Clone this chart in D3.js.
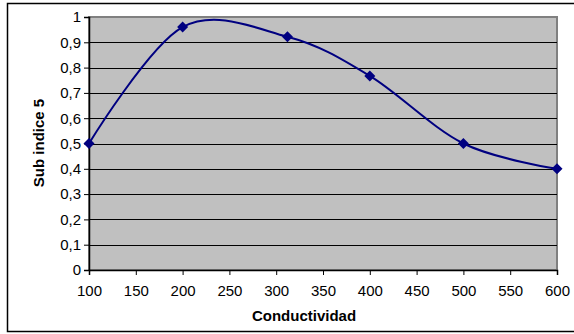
<!DOCTYPE html>
<html>
<head>
<meta charset="utf-8">
<script src="https://cdn.jsdelivr.net/npm/d3@7"></script>
<style>
  body { margin: 0; background: #fff; }
  text { font-family: "Liberation Sans", Arial, sans-serif; }
</style>
</head>
<body>
<script>
const conductividad = [100, 200, 312, 400, 500, 600];
const subIndice = [0.5, 0.96, 0.922, 0.767, 0.5, 0.4];
const xTicks = [100, 150, 200, 250, 300, 350, 400, 450, 500, 550, 600];
const yTicks = [0, 0.1, 0.2, 0.3, 0.4, 0.5, 0.6, 0.7, 0.8, 0.9, 1];

const width = 574, height = 334;
const plot = { left: 89, right: 557, top: 17, bottom: 270 };

const svg = d3.select('body').append('svg')
  .attr('width', width)
  .attr('height', height);

// chart area border (runs off the right side)
svg.append('rect')
  .attr('x', 7.5).attr('y', 3.5)
  .attr('width', 620).attr('height', 328)
  .attr('fill', '#fff')
  .attr('stroke', '#000')
  .attr('stroke-width', 1.5);

const x = d3.scaleLinear().domain([100, 600]).range([plot.left, plot.right]);
const y = d3.scaleLinear().domain([0, 1]).range([plot.bottom, plot.top]);

svg.append('rect')
  .attr('x', plot.left).attr('y', plot.top)
  .attr('width', plot.right - plot.left).attr('height', plot.bottom - plot.top)
  .attr('fill', '#c0c0c0')
  .attr('stroke', '#808080')
  .attr('stroke-width', 2);

// gridlines
svg.append('g')
  .selectAll('line')
  .data(yTicks.filter(d => d > 0 && d < 1))
  .enter()
  .append('line')
  .attr('x1', plot.left).attr('x2', plot.right)
  .attr('y1', d => Math.round(y(d)) + 0.5)
  .attr('y2', d => Math.round(y(d)) + 0.5)
  .attr('stroke', '#000')
  .attr('stroke-width', 1);

const fmt = d => String(+d.toFixed(1)).replace('.', ',');

const yAxis = svg.append('g')
  .attr('transform', `translate(${plot.left},0)`)
  .call(d3.axisLeft(y).tickValues(yTicks).tickFormat(fmt).tickSize(5).tickPadding(3));

const xAxis = svg.append('g')
  .attr('transform', `translate(0,${plot.bottom})`)
  .call(d3.axisBottom(x).tickValues(xTicks).tickFormat(d3.format('d')).tickSize(5).tickPadding(10));

[xAxis, yAxis].forEach(g => {
  g.select('.domain').attr('stroke', '#000').attr('stroke-width', 1.5);
  g.selectAll('.tick line').attr('stroke', '#000');
  g.selectAll('.tick text')
    .attr('fill', '#000')
    .style('font-size', '15px')
    .style('font-family', '"Liberation Sans", Arial, sans-serif');
});

// smoothed line
const line = d3.line()
  .x(d => x(d[0]))
  .y(d => y(d[1]))
  .curve(d3.curveCardinal.tension(0));

const pts = conductividad.map((c, i) => [c, subIndice[i]]);

svg.append('path')
  .datum(pts)
  .attr('d', line)
  .attr('fill', 'none')
  .attr('stroke', '#000080')
  .attr('stroke-width', 2);

svg.append('g')
  .selectAll('path')
  .data(pts)
  .enter()
  .append('path')
  .attr('transform', d => `translate(${x(d[0])},${y(d[1])})`)
  .attr('d', 'M0,-5.5L5.5,0L0,5.5L-5.5,0Z')
  .attr('fill', '#000080');

// axis titles
svg.append('text')
  .attr('x', 304).attr('y', 321)
  .attr('text-anchor', 'middle')
  .style('font-size', '15px')
  .style('font-weight', 'bold')
  .text('Conductividad');

svg.append('text')
  .attr('transform', 'translate(44,143) rotate(-90)')
  .attr('text-anchor', 'middle')
  .style('font-size', '15px')
  .style('font-weight', 'bold')
  .text('Sub indice 5');
</script>
</body>
</html>
